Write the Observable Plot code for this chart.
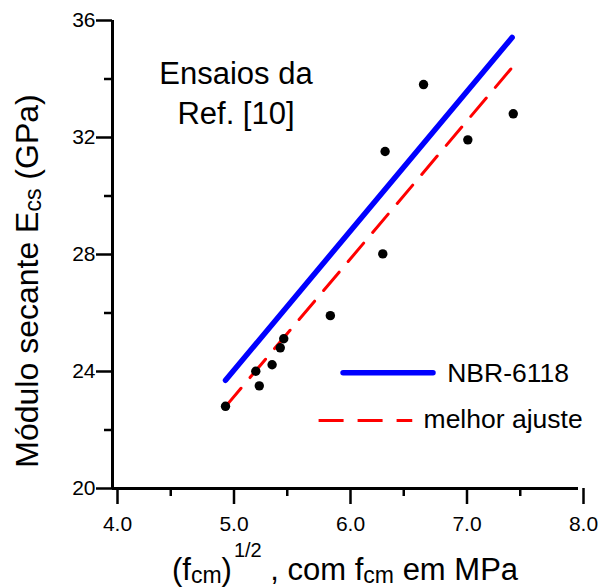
<!DOCTYPE html>
<html><head><meta charset="utf-8">
<script src="https://cdn.jsdelivr.net/npm/d3@7"></script>
<script src="https://cdn.jsdelivr.net/npm/@observablehq/plot@0.6"></script>
<style>body{margin:0;background:#fff} svg{display:block}</style>
</head><body><div id="chart"></div>
<script>
// ---- data ----
const sqrtFcm = [4.97, 5.23, 5.26, 5.37, 5.44, 5.47, 5.87, 6.32, 6.34, 6.67, 7.05, 7.44];
const ecs     = [22.81, 24.01, 23.51, 24.23, 24.81, 25.12, 25.91, 28.02, 31.52, 33.81, 31.92, 32.81];
const nbrX = [4.97, 7.43];
const nbrY = [23.70, 35.42];
const fitX = [4.97, 7.44];
const fitY = [22.80, 34.44];
const xTicks = [4, 5, 6, 7, 8];
const xTickLabels = ["4.0", "5.0", "6.0", "7.0", "8.0"];
const xMinor = [4.5, 5.5, 6.5, 7.5];
const yTicks = [20, 24, 28, 32, 36];
const yTickLabels = ["20", "24", "28", "32", "36"];
const yMinor = [22, 26, 30, 34];
const seriesNames = ["NBR-6118", "melhor ajuste"];
const annotation = "Ensaios da\nRef. [10]";

// ---- layout (legend placed in data units) ----
const legendSwatchX1 = [5.979, 5.769];
const legendSwatchX2 = [6.751, 6.573];
const legendRowY = [23.956, 22.325];
const legendLabelX = [6.873, 6.670];
const legendLabelY = [23.634, 22.075];
const FONT = "'Liberation Sans', Arial, Helvetica, sans-serif";

const points = sqrtFcm.map((x, i) => ({x, y: ecs[i]}));
const nbr = nbrX.map((x, i) => ({x, y: nbrY[i]}));
const fit = fitX.map((x, i) => ({x, y: fitY[i]}));
const legend = seriesNames.map((name, i) => ({
  name, x1: legendSwatchX1[i], x2: legendSwatchX2[i], y: legendRowY[i],
  lx: legendLabelX[i], ly: legendLabelY[i]
}));

const plot = Plot.plot({
  width: 612, height: 587,
  marginLeft: 112, marginRight: 34, marginTop: 20, marginBottom: 99,
  x: {domain: [4, 8]},
  y: {domain: [20, 36]},
  style: {fontFamily: FONT, color: "#000", background: "#fff"},
  marks: [
    Plot.axisX({ticks: xTicks, tickSize: 16, tickPadding: 12, tickFormat: d => xTickLabels[xTicks.indexOf(d)],
                fontSize: 21, strokeWidth: 2.5, dx: 5, label: null}),
    Plot.axisX({ticks: xMinor, tickSize: 8, tickFormat: () => "", strokeWidth: 2.5, label: null}),
    Plot.axisY({ticks: yTicks, tickSize: 16, tickPadding: 1, tickFormat: d => yTickLabels[yTicks.indexOf(d)],
                fontSize: 21, strokeWidth: 2.5, label: null}),
    Plot.axisY({ticks: yMinor, tickSize: 8, tickFormat: () => "", strokeWidth: 2.5, label: null}),
    Plot.ruleX([4], {strokeWidth: 3, stroke: "#000"}),
    Plot.ruleY([20], {strokeWidth: 3, stroke: "#000"}),
    Plot.line(nbr, {x: "x", y: "y", stroke: "#0000ff", strokeWidth: 5.5, strokeLinecap: "round"}),
    Plot.line(fit, {x: "x", y: "y", stroke: "#ff0000", strokeWidth: 3, strokeDasharray: "24,14"}),
    Plot.dot(points, {x: "x", y: "y", r: 4.7, fill: "#000", stroke: null}),
    Plot.text([annotation], {x: 5.06, y: 32.45, text: d => d, lineAnchor: "bottom", lineHeight: 1.29,
                             fontSize: 31, textAnchor: "middle", fill: "#000"}),
    Plot.link([legend[0]], {x1: "x1", x2: "x2", y1: "y", y2: "y", stroke: "#0000ff", strokeWidth: 5.5, strokeLinecap: "round"}),
    Plot.link([legend[1]], {x1: "x1", x2: "x2", y1: "y", y2: "y", stroke: "#ff0000", strokeWidth: 3, strokeDasharray: "25,14"}),
    Plot.text(legend, {x: "lx", y: "ly", text: "name", lineAnchor: "bottom", textAnchor: "start", fontSize: 26.5, fill: "#000"})
  ]
});

// axis titles with sub/superscripts
const svg = d3.select(plot);
const sx = plot.scale("x"), sy = plot.scale("y");
const xl = svg.append("text")
  .attr("x", (sx.apply(4) + sx.apply(8)) / 2).attr("y", 580)
  .attr("text-anchor", "middle").attr("font-family", FONT).attr("font-size", 31).attr("fill", "#000");
xl.append("tspan").text("(f");
xl.append("tspan").attr("font-size", 23).attr("dy", 3).text("cm");
xl.append("tspan").attr("dy", -3).text(")");
xl.append("tspan").attr("font-size", 20).attr("dy", -23).attr("dx", 2).text("1/2");
xl.append("tspan").attr("dy", 23).text(" , com f");
xl.append("tspan").attr("font-size", 23).attr("dy", 3).text("cm");
xl.append("tspan").attr("dy", -3).text(" em MPa");

const yl = svg.append("text")
  .attr("transform", `translate(38,${(sy.apply(20) + sy.apply(36)) / 2 + 27}) rotate(-90)`)
  .attr("text-anchor", "middle").attr("font-family", FONT).attr("font-size", 32).attr("fill", "#000");
yl.append("tspan").text("Módulo secante E");
yl.append("tspan").attr("font-size", 23).attr("dy", 3).text("cs");
yl.append("tspan").attr("dy", -3).text(" (GPa)");

document.getElementById("chart").appendChild(plot);
</script>
</body></html>
